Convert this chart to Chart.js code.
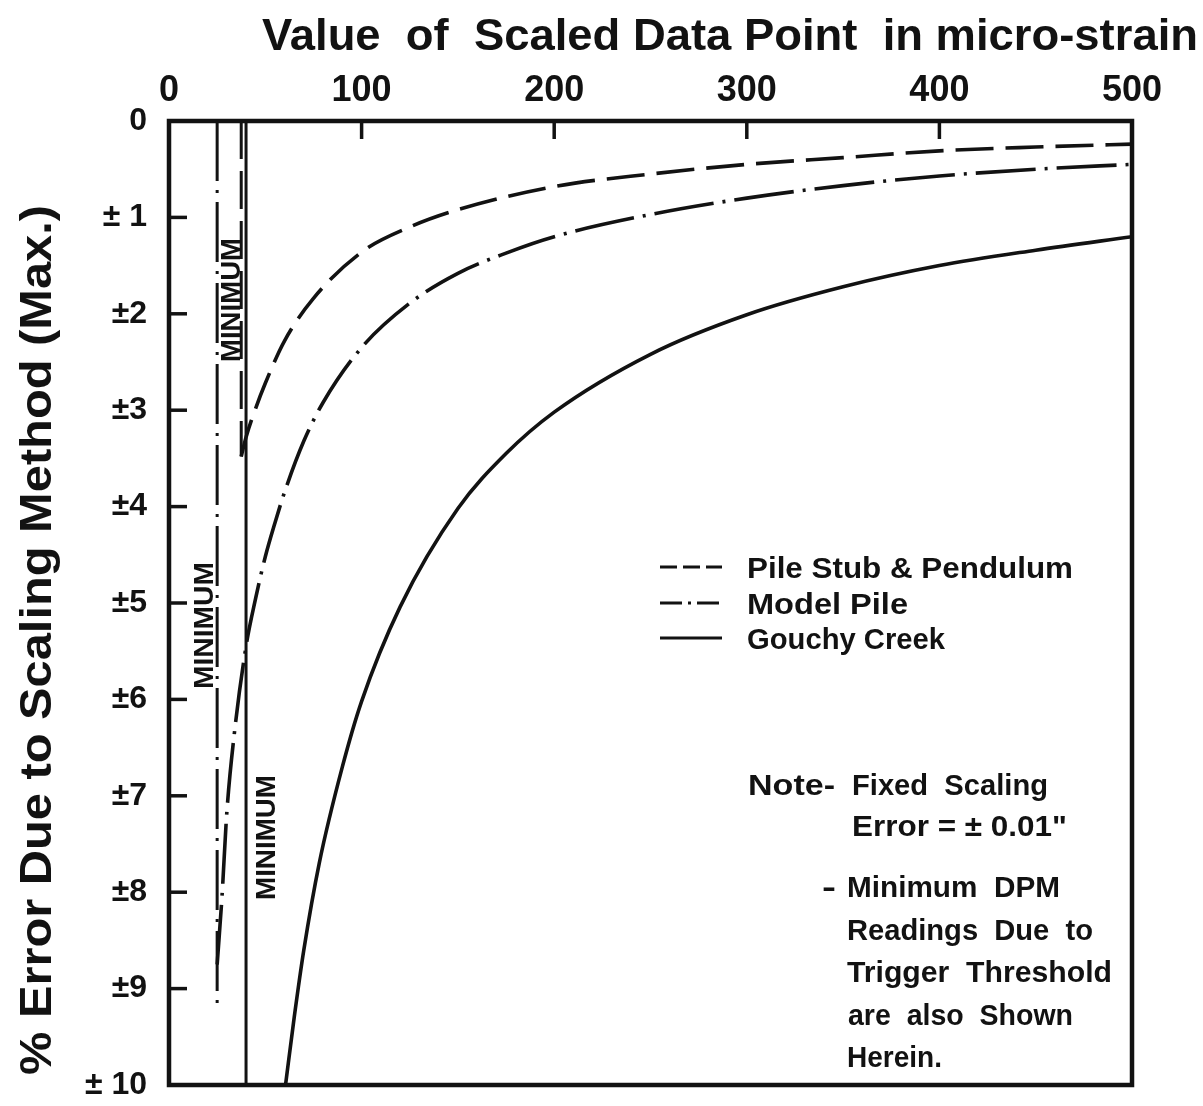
<!DOCTYPE html>
<html>
<head>
<meta charset="utf-8">
<script src="https://cdn.jsdelivr.net/npm/chart.js@4.4.1/dist/chart.umd.min.js"></script>
<style>
html,body{margin:0;padding:0;background:#ffffff;}
canvas{display:block;}
</style>
</head>
<body>
<canvas id="c" width="1203" height="1106"></canvas>
<script>
// ---------- data ----------
const xTickValues = [0, 100, 200, 300, 400, 500];
const yTickLabels = ['0', '± 1', '±2', '±3', '±4', '±5', '±6', '±7', '±8', '±9', '± 10'];
const seriesNames = ['Pile Stub & Pendulum', 'Model Pile', 'Gouchy Creek'];

// Pile Stub & Pendulum (dashed)
const pileStubX = [37.5, 40, 45, 50, 60, 75, 100, 125, 150, 200, 250, 300, 350, 400, 450, 500];
const pileStubY = [3.48, 3.28, 2.98, 2.72, 2.28, 1.84, 1.36, 1.1, 0.92, 0.68, 0.55, 0.45, 0.38, 0.31, 0.27, 0.24];

// Model Pile (dash-dot)
const modelPileX = [25, 27.5, 30, 34, 40, 45, 50, 55, 60, 70, 80, 100, 125, 150, 175, 200, 250, 300, 350, 400, 450, 500];
const modelPileY = [8.75, 8.05, 7.18, 6.34, 5.45, 4.95, 4.52, 4.17, 3.85, 3.32, 2.92, 2.35, 1.89, 1.58, 1.37, 1.2, 0.97, 0.8, 0.67, 0.57, 0.5, 0.45];

// Gouchy Creek (solid)
const gouchyX = [60.5, 65, 70, 78, 90, 100, 120, 150, 175, 200, 250, 300, 350, 400, 450, 500];
const gouchyY = [10, 9.3, 8.6, 7.7, 6.7, 6.02, 5.04, 4.02, 3.45, 3.02, 2.42, 2.01, 1.72, 1.5, 1.34, 1.2];

// Minimum DPM readings (vertical lines): Pile Stub, Model Pile, Gouchy Creek
const minimumX = [37.5, 25, 40];
const minimumTop = [0, 0, 0];
const minimumBottom = [3.48, 9.2, 10];

// ---------- styles ----------
const INK = '#121212';
const FONT = '"Liberation Sans", Arial, sans-serif';
const dashStyles = [[38, 12], [60, 9, 3, 9], []];
const legendDash = [[17, 6], [22, 6, 3, 6], []];

function pts(xs, ys) { return xs.map((v, i) => ({ x: v, y: ys[i] })); }

const curveX = [pileStubX, modelPileX, gouchyX];
const curveY = [pileStubY, modelPileY, gouchyY];

const datasets = [];
for (let i = 0; i < 3; i++) {
  datasets.push({
    label: seriesNames[i],
    data: pts(curveX[i], curveY[i]),
    borderColor: INK,
    borderWidth: 3.6,
    borderDash: dashStyles[i],
    pointRadius: 0,
    fill: false,
    cubicInterpolationMode: 'monotone'
  });
}
for (let i = 0; i < 3; i++) {
  datasets.push({
    label: 'Minimum ' + seriesNames[i],
    data: [{ x: minimumX[i], y: minimumTop[i] }, { x: minimumX[i], y: minimumBottom[i] }],
    borderColor: INK,
    borderWidth: 3,
    borderDash: dashStyles[i],
    pointRadius: 0,
    fill: false,
    tension: 0
  });
}

function fitText(ctx, text, x, y, w, font, rot) {
  ctx.save();
  ctx.font = font;
  ctx.textAlign = 'left';
  ctx.textBaseline = 'alphabetic';
  const m = ctx.measureText(text).width;
  ctx.translate(x, y);
  if (rot) ctx.rotate(rot);
  ctx.scale(w / m, 1);
  ctx.fillText(text, 0, 0);
  ctx.restore();
}

const decor = {
  id: 'decor',
  afterDraw(chart) {
    const { ctx, chartArea: a, scales } = chart;
    const sx = scales.x, sy = scales.y;
    ctx.save();
    ctx.fillStyle = INK;
    ctx.strokeStyle = INK;

    // plot frame
    ctx.lineWidth = 4.5;
    ctx.setLineDash([]);
    ctx.strokeRect(a.left, a.top, a.right - a.left, a.bottom - a.top);

    // inward tick marks
    ctx.lineWidth = 3.5;
    xTickValues.forEach(v => {
      if (v <= sx.min || v >= sx.max) return;
      const px = sx.getPixelForValue(v);
      ctx.beginPath(); ctx.moveTo(px, a.top); ctx.lineTo(px, a.top + 18); ctx.stroke();
    });
    for (let v = 1; v < yTickLabels.length - 1; v++) {
      const py = sy.getPixelForValue(v);
      ctx.beginPath(); ctx.moveTo(a.left, py); ctx.lineTo(a.left + 18, py); ctx.stroke();
    }

    // axis titles
    const titleFont = 'bold 45px ' + FONT;
    fitText(ctx, 'Value  of  Scaled Data Point  in micro-strain', 262, 50, 936, titleFont, 0);
    fitText(ctx, '% Error Due to Scaling Method (Max.)', 51, 1075, 870, titleFont, -Math.PI / 2);

    // MINIMUM labels (rotated)
    const minFont = 'bold 28px ' + FONT;
    fitText(ctx, 'MINIMUM', 240, 362, 124, minFont, -Math.PI / 2);
    fitText(ctx, 'MINIMUM', 213, 689, 127, minFont, -Math.PI / 2);
    fitText(ctx, 'MINIMUM', 275, 900, 125, minFont, -Math.PI / 2);

    // legend
    const legFont = 'bold 29px ' + FONT;
    const rowsY = [567, 603, 638];
    const legW = [326, 161, 198];
    for (let i = 0; i < 3; i++) {
      ctx.save();
      ctx.lineWidth = 3;
      ctx.setLineDash(legendDash[i]);
      ctx.beginPath(); ctx.moveTo(660, rowsY[i]); ctx.lineTo(722, rowsY[i]); ctx.stroke();
      ctx.restore();
      fitText(ctx, seriesNames[i], 747, rowsY[i] + 10.5, legW[i], legFont, 0);
    }

    // note
    const nf = 'bold 29px ' + FONT;
    fitText(ctx, 'Note-', 748, 795, 87, nf, 0);
    fitText(ctx, 'Fixed  Scaling', 852, 795, 196, nf, 0);
    fitText(ctx, 'Error = ± 0.01"', 852, 836, 215, nf, 0);
    fitText(ctx, '-', 822, 897, 14, nf, 0);
    fitText(ctx, 'Minimum  DPM', 847, 897, 213, nf, 0);
    fitText(ctx, 'Readings  Due  to', 847, 940, 246, nf, 0);
    fitText(ctx, 'Trigger  Threshold', 847, 982, 265, nf, 0);
    fitText(ctx, 'are  also  Shown', 848, 1025, 225, nf, 0);
    fitText(ctx, 'Herein.', 847, 1067, 95, nf, 0);

    ctx.restore();
  }
};

new Chart(document.getElementById('c'), {
  type: 'line',
  data: { datasets },
  options: {
    responsive: false,
    animation: false,
    devicePixelRatio: 1,
    layout: { padding: { left: 0, top: 0, right: 71, bottom: 21 } },
    plugins: { legend: { display: false }, tooltip: { enabled: false } },
    scales: {
      x: {
        type: 'linear',
        position: 'top',
        min: 0, max: 500,
        afterBuildTicks: (s) => { s.ticks = xTickValues.map(v => ({ value: v })); },
        afterFit: (s) => { s.height = 121; s.paddingLeft = 0; s.paddingRight = 0; s.paddingTop = 0; s.paddingBottom = 0; },
        grid: { display: false, drawTicks: false },
        border: { display: false },
        ticks: {
          color: INK,
          padding: 8,
          maxRotation: 0,
          font: { family: FONT, size: 36, weight: 'bold' },
          callback: (v) => String(v)
        }
      },
      y: {
        type: 'linear',
        reverse: true,
        min: 0, max: 10,
        afterBuildTicks: (s) => { s.ticks = yTickLabels.map((t, i) => ({ value: i })); },
        afterFit: (s) => { s.width = 169; s.paddingTop = 0; s.paddingBottom = 0; s.paddingLeft = 0; s.paddingRight = 0; },
        grid: { display: false, drawTicks: false },
        border: { display: false },
        ticks: {
          color: INK,
          padding: 22,
          font: { family: FONT, size: 32, weight: 'bold' },
          callback: (v) => yTickLabels[v]
        }
      }
    }
  },
  plugins: [decor]
});
</script>
</body>
</html>
